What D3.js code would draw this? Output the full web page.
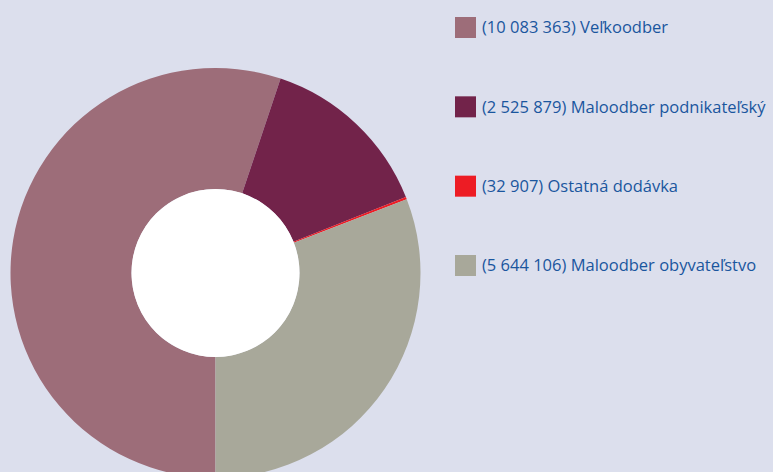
<!DOCTYPE html>
<html><head><meta charset="utf-8">
<script src="https://cdn.jsdelivr.net/npm/d3@7"></script>
<style>html,body{margin:0;padding:0;background:#dcdfed;}svg{display:block;}</style>
</head><body>
<script>
const categories = ["Veľkoodber", "Maloodber podnikateľský", "Ostatná dodávka", "Maloodber obyvateľstvo"];
const values = [10083363, 2525879, 32907, 5644106];
const valueLabels = ["10 083 363", "2 525 879", "32 907", "5 644 106"];
const colors = ["#9d6d79", "#72234a", "#ed1c24", "#a8a89a"];

const W = 773, H = 472;
const svg = d3.select("body").append("svg").attr("width", W).attr("height", H);
svg.append("rect").attr("width", W).attr("height", H).attr("fill", "#dcdfed");

const cx = 215.5, cy = 273, rOuter = 205, rInner = 84;
const pie = d3.pie().sort(null).value(d => d).startAngle(Math.PI).endAngle(3 * Math.PI);
const arc = d3.arc().innerRadius(rInner).outerRadius(rOuter);
const g = svg.append("g").attr("transform", `translate(${cx},${cy})`);
g.selectAll("path").data(pie(values)).join("path")
  .attr("d", arc).attr("fill", (d, i) => colors[i]);
g.append("circle").attr("r", rInner).attr("fill", "#ffffff");

const legendY = d3.scalePoint().domain(categories).range([27.5, 265.5]);
const lg = svg.append("g");
const items = lg.selectAll("g").data(categories).join("g")
  .attr("transform", d => `translate(455,${legendY(d)})`);
items.append("rect").attr("x", 0).attr("y", -10.5).attr("width", 21).attr("height", 21)
  .attr("fill", (d, i) => colors[i]);
items.append("text").attr("x", 27).attr("y", 0).attr("dy", "0.35em")
  .attr("font-family", "'Open Sans', sans-serif").attr("font-size", 16.5)
  .attr("fill", "#1a569e")
  .text((d, i) => `(${valueLabels[i]}) ${d}`);
</script>
</body></html>
